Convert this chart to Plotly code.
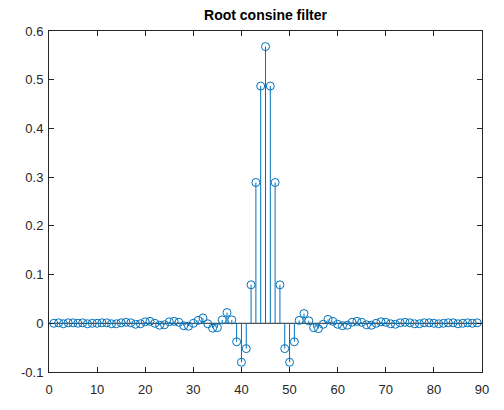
import plotly.graph_objects as go

# tap index 1..89
n = list(range(1, 90))
h = [0.000, 0.001, -0.001, 0.001, 0.001, 0.000, 0.001, -0.001, 0.000, 0.000,
     0.001, 0.001, -0.001, -0.001, 0.001, 0.002, 0.001, -0.002, -0.001, 0.003,
     0.004, 0.000, -0.004, -0.003, 0.003, 0.004, 0.002, -0.005, -0.006, 0.000,
     0.006, 0.011, -0.001, -0.010, -0.009, 0.007, 0.022, 0.007, -0.038, -0.080,
     -0.052, 0.079, 0.289, 0.487, 0.568, 0.487, 0.289, 0.079, -0.052, -0.080,
     -0.038, 0.006, 0.020, 0.005, -0.009, -0.011, -0.002, 0.008, 0.004, -0.002,
     -0.005, -0.004, 0.002, 0.004, 0.002, -0.003, -0.004, 0.000, 0.003, 0.002,
     -0.001, -0.002, 0.001, 0.002, 0.001, -0.001, -0.001, 0.001, 0.001, 0.000,
     -0.001, 0.000, 0.001, 0.001, -0.001, 0.000, 0.001, 0.000, 0.001]

xticks = list(range(0, 100, 10))
yticks = [-0.1, 0, 0.1, 0.2, 0.3, 0.4, 0.5, 0.6]
ytext = ["-0.1", "0", "0.1", "0.2", "0.3", "0.4", "0.5", "0.6"]

blue = "#0072BD"

sx, sy = [], []
for a, b in zip(n, h):
    sx += [a, a, None]
    sy += [0, b, None]

fig = go.Figure()
fig.add_trace(go.Scatter(x=[0, 90], y=[0, 0], mode="lines",
                         line=dict(color="#262626", width=1), hoverinfo="skip"))
fig.add_trace(go.Scatter(x=sx, y=sy, mode="lines",
                         line=dict(color=blue, width=1), hoverinfo="skip"))
fig.add_trace(go.Scatter(x=n, y=h, mode="markers",
                         marker=dict(symbol="circle-open", size=8, color=blue,
                                     line=dict(width=1, color=blue))))

# page puts the figure 8px in from the corner, so margins are shifted
fig.update_layout(
    width=504, height=410,
    margin=dict(l=41, r=30, t=23, b=46),
    paper_bgcolor="white", plot_bgcolor="white",
    showlegend=False,
    font=dict(family="Arial, Liberation Sans, sans-serif", size=13, color="#262626"),
    title=dict(text="<b>Root consine filter</b>", x=0.5, xref="paper",
               y=1, yref="container", yanchor="top", pad=dict(t=2),
               font=dict(size=14, color="black")),
)
fig.update_xaxes(range=[0, 90], tickvals=xticks, ticks="inside", ticklen=5,
                 showline=True, linecolor="#262626", linewidth=1, mirror="ticks",
                 showgrid=False, zeroline=False, tickcolor="#262626",
                 ticklabelstandoff=5)
fig.update_yaxes(range=[-0.1, 0.6], tickvals=yticks, ticktext=ytext, ticks="inside",
                 ticklen=5, showline=True, linecolor="#262626", linewidth=1,
                 mirror="ticks", showgrid=False, zeroline=False, tickcolor="#262626",
                 ticklabelstandoff=2)

fig.write_html("out.html")
